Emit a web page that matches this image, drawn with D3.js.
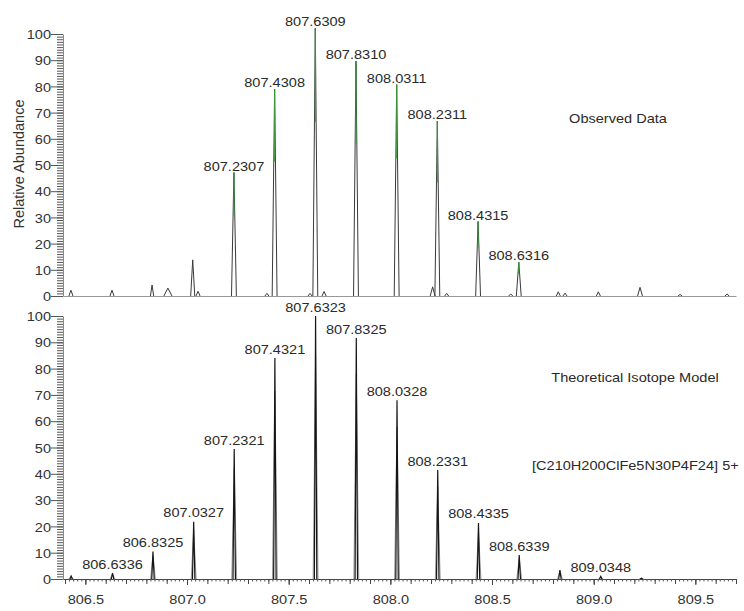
<!DOCTYPE html>
<html>
<head>
<meta charset="utf-8">
<script src="https://cdn.jsdelivr.net/npm/d3@7"></script>
<style>
  body { margin: 0; background: #fff; }
  svg { font-family: "Liberation Sans", Arial, sans-serif; }
  .axis text { fill: #333; font-size: 13px; }
  .peak-label, .note { fill: #2a2a2a; font-size: 13px; }
</style>
</head>
<body>
<div id="chart"></div>
<script>
// observed spectrum (m/z, relative abundance, peak half width in Da, label)
var obsMz = [806.429, 806.631, 806.828, 806.906, 807.028, 807.054, 807.2307, 807.393, 807.4308, 807.605,
    807.6309, 807.674, 807.8310, 808.0311, 808.208, 808.2311, 808.277, 808.4315, 808.592, 808.6316,
    808.826, 808.859, 809.023, 809.228, 809.425, 809.656];
var obsAbund = [2.2, 2.2, 4.2, 3.0, 13.8, 1.8, 47.1, 1.0, 78.9, 1.0,
    102.2, 1.7, 89.6, 80.7, 3.5, 66.7, 1.0, 28.4, 0.8, 12.9,
    1.6, 1.1, 1.6, 3.3, 0.6, 0.8];
var obsHalfWidth = [0.01, 0.01, 0.008, 0.02, 0.01, 0.01, 0.012, 0.01, 0.012, 0.01,
    0.012, 0.01, 0.012, 0.012, 0.012, 0.012, 0.01, 0.012, 0.01, 0.012,
    0.01, 0.01, 0.01, 0.012, 0.01, 0.01];
var obsLabels = ["", "", "", "", "", "", "807.2307", "", "807.4308", "",
    "807.6309", "", "807.8310", "808.0311", "", "808.2311", "", "808.4315", "", "808.6316",
    "", "", "", "", "", ""];

// theoretical isotope model
var theoMz = [806.43, 806.6336, 806.8325, 807.0327, 807.2321, 807.4321, 807.6323, 807.8325,
    808.0328, 808.2331, 808.4335, 808.6339, 808.834, 809.0348, 809.235];
var theoAbund = [1.1, 2.2, 10.4, 21.8, 49.4, 84, 100, 91.6, 68, 41.4, 21.3, 9.1, 3.4, 1.0, 0.3];
var theoLabels = ["", "806.6336", "806.8325", "807.0327", "807.2321", "807.4321", "807.6323", "807.8325",
    "808.0328", "808.2331", "808.4335", "808.6339", "", "809.0348", ""];

var yTicks = [0, 10, 20, 30, 40, 50, 60, 70, 80, 90, 100];
var xTickLabels = [806.5, 807.0, 807.5, 808.0, 808.5, 809.0, 809.5];
var mzDomain = [806.39, 809.70];

var width = 744, height = 611;
var stretch = 1.12;   // text in the picture is a little wide

var svg = d3.select("#chart").append("svg")
    .attr("width", width)
    .attr("height", height);

var x = d3.scaleLinear().domain(mzDomain).range([63, 736]);
var yTop = d3.scaleLinear().domain([0, 100]).range([296, 34]);
var yBot = d3.scaleLinear().domain([0, 100]).range([579, 316]);

var peakLine = function(yScale, m, h, w) {
    return d3.line()([[x(m - w), yScale(0)], [x(m), yScale(h)], [x(m + w), yScale(0)]]);
};

function wideText(sel, px, py, txt, anchor, cls) {
    return sel.append("text")
        .attr("class", cls)
        .attr("text-anchor", anchor)
        .attr("transform", "translate(" + px + "," + py + ") scale(" + stretch + ",1)")
        .text(txt);
}

//======= y axes ======//
function drawYAxis(yScale) {
    var minor = svg.append("g")
        .attr("class", "axis")
        .attr("transform", "translate(63,0)")
        .call(d3.axisLeft(yScale).tickValues(d3.range(0, 101, 1)).tickSize(6).tickSizeOuter(0).tickFormat(""));
    minor.selectAll(".tick line").attr("stroke", "#555");
    minor.select(".domain").attr("stroke", "#888");

    var major = svg.append("g")
        .attr("class", "axis")
        .attr("transform", "translate(63,0)")
        .call(d3.axisLeft(yScale).tickValues(yTicks).tickSize(12).tickSizeOuter(0));
    major.select(".domain").remove();
    major.selectAll(".tick line").attr("stroke", "#555");
    major.selectAll(".tick text")
        .attr("x", null)
        .attr("dy", "0.36em")
        .attr("transform", "translate(-12,0) scale(" + stretch + ",1)");
}
drawYAxis(yTop);
drawYAxis(yBot);

// top panel baseline (no ticks)
svg.append("g")
    .attr("transform", "translate(0," + yTop(0) + ")")
    .call(d3.axisBottom(x).tickValues([]).tickSizeOuter(0))
    .select(".domain").attr("stroke", "#999");

// bottom panel x axis
var xMinor = svg.append("g")
    .attr("transform", "translate(0," + yBot(0) + ")")
    .call(d3.axisBottom(x).tickValues(d3.range(806.4, 809.71, 0.02)).tickSize(2.5).tickSizeOuter(0).tickFormat(""));
xMinor.select(".domain").attr("stroke", "#444");
xMinor.selectAll(".tick line").attr("stroke", "#555");

svg.append("g")
    .attr("transform", "translate(0," + yBot(0) + ")")
    .call(d3.axisBottom(x).tickValues(d3.range(806.4, 809.71, 0.1)).tickSize(5).tickSizeOuter(0).tickFormat(""))
    .call(function(g) { g.select(".domain").remove(); g.selectAll(".tick line").attr("stroke", "#444"); });

var xMajor = svg.append("g")
    .attr("class", "axis")
    .attr("transform", "translate(0," + yBot(0) + ")")
    .call(d3.axisBottom(x).tickValues(xTickLabels).tickSize(6).tickSizeOuter(0).tickFormat(d3.format(".1f")));
xMajor.select(".domain").remove();
xMajor.selectAll(".tick line").attr("stroke", "#444");
xMajor.selectAll(".tick text")
    .attr("y", null)
    .attr("dy", null)
    .attr("transform", "translate(0,25) scale(" + stretch + ",1)");

//======= observed peaks ======//
var obs = obsMz.map(function(m, i) {
    return { mz: m, h: obsAbund[i], w: obsHalfWidth[i], label: obsLabels[i] };
});

svg.append("g").selectAll("path")
    .data(obs)
    .enter().append("path")
    .attr("d", function(d) { return peakLine(yTop, d.mz, d.h, d.w); })
    .attr("fill", "none")
    .attr("stroke", "#3a3a3a")
    .attr("stroke-width", 1);

// centroid sticks
svg.append("g").selectAll("line")
    .data(obs.filter(function(d) { return d.label; }))
    .enter().append("line")
    .attr("x1", function(d) { return x(d.mz); })
    .attr("x2", function(d) { return x(d.mz); })
    .attr("y1", function(d) { return yTop(d.h); })
    .attr("y2", function(d) { return yTop(d.h * 0.65); })
    .attr("stroke", "#3b9c3b")
    .attr("stroke-width", 1.1);

var obsLabelG = svg.append("g");
obs.filter(function(d) { return d.label; }).forEach(function(d) {
    wideText(obsLabelG, x(d.mz), yTop(d.h) - 2, d.label, "middle", "peak-label");
});

//======= theoretical peaks ======//
var theo = theoMz.map(function(m, i) {
    return { mz: m, h: theoAbund[i], label: theoLabels[i] };
});

svg.append("g").selectAll("path")
    .data(theo)
    .enter().append("path")
    .attr("d", function(d) { return peakLine(yBot, d.mz, d.h * 0.85, 0.012); })
    .attr("fill", "none")
    .attr("stroke", "#9a9a9a")
    .attr("stroke-width", 1);

svg.append("g").selectAll("path")
    .data(theo)
    .enter().append("path")
    .attr("d", function(d) { return peakLine(yBot, d.mz, d.h, 0.006); })
    .attr("fill", "none")
    .attr("stroke", "#151515")
    .attr("stroke-width", 1.2);

var theoLabelG = svg.append("g");
theo.filter(function(d) { return d.label; }).forEach(function(d) {
    wideText(theoLabelG, x(d.mz), yBot(d.h) - 4.5, d.label, "middle", "peak-label");
});

//======= notes ======//
wideText(svg, 618, 123, "Observed Data", "middle", "note");
wideText(svg, 635, 382, "Theoretical Isotope Model", "middle", "note");
wideText(svg, 532, 470, "[C210H200ClFe5N30P4F24] 5+", "start", "note");

svg.append("text")
    .attr("transform", "translate(23.5,164) rotate(-90)")
    .attr("text-anchor", "middle")
    .style("font-size", "14.5px")
    .style("fill", "#333")
    .text("Relative Abundance");
</script>
</body>
</html>
